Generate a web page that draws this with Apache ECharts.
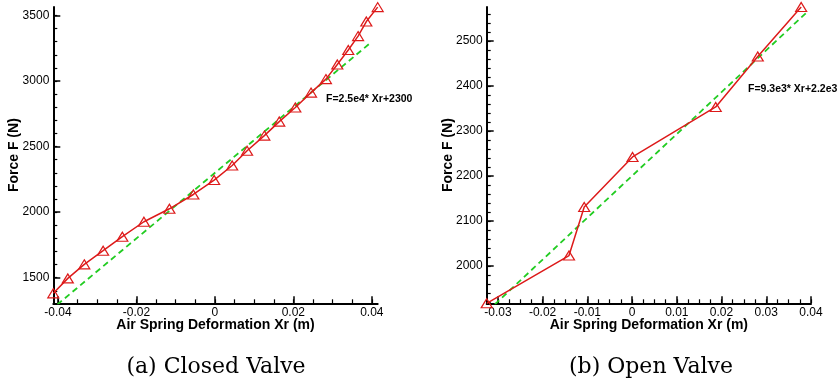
<!DOCTYPE html>
<html>
<head>
<meta charset="utf-8">
<script src="https://cdn.jsdelivr.net/npm/echarts@6/dist/echarts.min.js"></script>
<style>
  html, body { margin: 0; padding: 0; background: #fff; }
  #chart { width: 839px; height: 390px; }
</style>
</head>
<body>
<div id="chart"></div>
<script>
// (a) closed valve: measured spring force against deformation
const closedX = [-0.0412, -0.0375, -0.0333, -0.0285, -0.0236, -0.0181, -0.0116, -0.0055, -0.0002, 0.0044,
                 0.0082, 0.0126, 0.0164, 0.0205, 0.0245, 0.0283, 0.0312, 0.0340, 0.0365, 0.0386, 0.0415];
const closedF = [1381, 1495, 1602, 1706, 1813, 1927, 2026, 2135, 2245, 2356,
                 2469, 2584, 2691, 2798, 2912, 3015, 3127, 3237, 3343, 3454, 3564];

// (b) open valve
const openX = [-0.0325, -0.0141, -0.0107, 0.0001, 0.0187, 0.0281, 0.0378];
const openF = [1917, 2023, 2131, 2242, 2353, 2465, 2575];

// Linear fits F = slope * Xr + intercept, drawn over the x span shown
const closedFitSlope = 2.5e4, closedFitIntercept = 2300, closedFitX = [-0.0402, 0.0395];
const openFitSlope = 9.3e3, openFitIntercept = 2.2e3, openFitX = [-0.0307, 0.0393];
const closedFitText = 'F=2.5e4* Xr+2300';
const openFitText = 'F=9.3e3* Xr+2.2e3';

// Tick labels
const closedXTicks = [-0.04, -0.02, 0, 0.02, 0.04];
const closedYTicks = [1500, 2000, 2500, 3000, 3500];
const openXTicks = [-0.03, -0.02, -0.01, 0, 0.01, 0.02, 0.03, 0.04];
const openYTicks = [2000, 2100, 2200, 2300, 2400, 2500];

const xTitle = 'Air Spring Deformation Xr (m)';
const yTitle = 'Force F (N)';
const captions = ['(a) Closed Valve', '(b) Open Valve'];

// Axis extents
const closedXRange = [-0.0412, 0.0415], closedYRange = [1305, 3565];
const openXRange = [-0.0325, 0.04], openYRange = [1917, 2575];

function steps(start, stop, step) {
  const out = [];
  const n = Math.round((stop - start) / step);
  for (let i = 0; i <= n; i++) out.push(+(start + i * step).toFixed(6));
  return out;
}
const closedXMinor = steps(-0.04, 0.04, 0.005);
const closedYMinor = steps(1400, 3500, 100);
const openXMinor = steps(-0.03, 0.04, 0.0025);
const openYMinor = steps(1920, 2560, 20);

const SANS = 'Liberation Sans, Arial, sans-serif';
const RED = '#dd1a1a';
const GREEN = '#22cc22';

function mainAxis(dim, grid, range, ticks, name) {
  const isX = dim === 'x';
  return {
    type: 'value', gridIndex: grid, min: range[0], max: range[1],
    position: isX ? 'bottom' : 'left',
    name: name, nameLocation: 'middle', nameGap: isX ? 15 : 32,
    nameMoveOverlap: false,
    nameTextStyle: { fontFamily: SANS, fontSize: 14, fontWeight: 'bold', color: '#000' },
    axisLine: { show: true, onZero: false, lineStyle: { color: '#000', width: 2 } },
    axisTick: { show: true, inside: true, length: 7, customValues: ticks, lineStyle: { color: '#000', width: 1.5 } },
    axisLabel: {
      show: true, customValues: ticks, margin: isX ? 3 : 4,
      formatter: v => String(v),
      fontFamily: SANS, fontSize: 12, color: '#000'
    },
    splitLine: { show: false }
  };
}
function minorAxis(dim, grid, range, ticks) {
  return {
    type: 'value', gridIndex: grid, min: range[0], max: range[1],
    position: dim === 'x' ? 'bottom' : 'left',
    axisLine: { show: false, onZero: false },
    axisTick: { show: true, inside: true, length: 4, customValues: ticks, lineStyle: { color: '#000', width: 1.2 } },
    axisLabel: { show: false },
    splitLine: { show: false }
  };
}

function pairs(xs, ys) { return xs.map((x, i) => [x, ys[i]]); }
function fitLine(xs, slope, intercept) { return xs.map(x => [x, slope * x + intercept]); }

function dataSeries(ax, data) {
  return {
    type: 'line', xAxisIndex: ax, yAxisIndex: ax, data: data,
    symbol: 'triangle', symbolSize: [11, 9],
    itemStyle: { color: 'rgba(0,0,0,0)', borderColor: RED, borderWidth: 1.2 },
    lineStyle: { color: RED, width: 1.5 },
    z: 3, silent: true
  };
}
function fitSeries(ax, data) {
  return {
    type: 'line', xAxisIndex: ax, yAxisIndex: ax, data: data,
    showSymbol: false, symbol: 'none',
    lineStyle: { color: GREEN, width: 1.8, type: [6, 4] },
    z: 2, silent: true
  };
}

const chart = echarts.init(document.getElementById('chart'), null, { renderer: 'canvas' });
chart.setOption({
  animation: false,
  backgroundColor: '#fff',
  grid: [
    { left: 53.3, top: 7, width: 324.4, height: 296.3 },
    { left: 486.7, top: 7, width: 324.3, height: 296.3 }
  ],
  xAxis: [
    mainAxis('x', 0, closedXRange, closedXTicks, xTitle),
    mainAxis('x', 1, openXRange, openXTicks, xTitle),
    minorAxis('x', 0, closedXRange, closedXMinor),
    minorAxis('x', 1, openXRange, openXMinor)
  ],
  yAxis: [
    mainAxis('y', 0, closedYRange, closedYTicks, yTitle),
    mainAxis('y', 1, openYRange, openYTicks, yTitle),
    minorAxis('y', 0, closedYRange, closedYMinor),
    minorAxis('y', 1, openYRange, openYMinor)
  ],
  series: [
    fitSeries(0, fitLine(closedFitX, closedFitSlope, closedFitIntercept)),
    dataSeries(0, pairs(closedX, closedF)),
    fitSeries(1, fitLine(openFitX, openFitSlope, openFitIntercept)),
    dataSeries(1, pairs(openX, openF))
  ],
  graphic: [
    { type: 'text', left: 326, top: 94, style: { text: closedFitText, font: 'bold 10.5px ' + SANS, fill: '#000' } },
    { type: 'text', left: 748, top: 84, style: { text: openFitText, font: 'bold 10.5px ' + SANS, fill: '#000' } },
    { type: 'text', x: 216, y: 367, style: { text: captions[0], font: '22px DejaVu Serif, serif', fill: '#000', align: 'center', verticalAlign: 'middle' } },
    { type: 'text', x: 651, y: 367, style: { text: captions[1], font: '22px DejaVu Serif, serif', fill: '#000', align: 'center', verticalAlign: 'middle' } }
  ]
});
</script>
</body>
</html>
